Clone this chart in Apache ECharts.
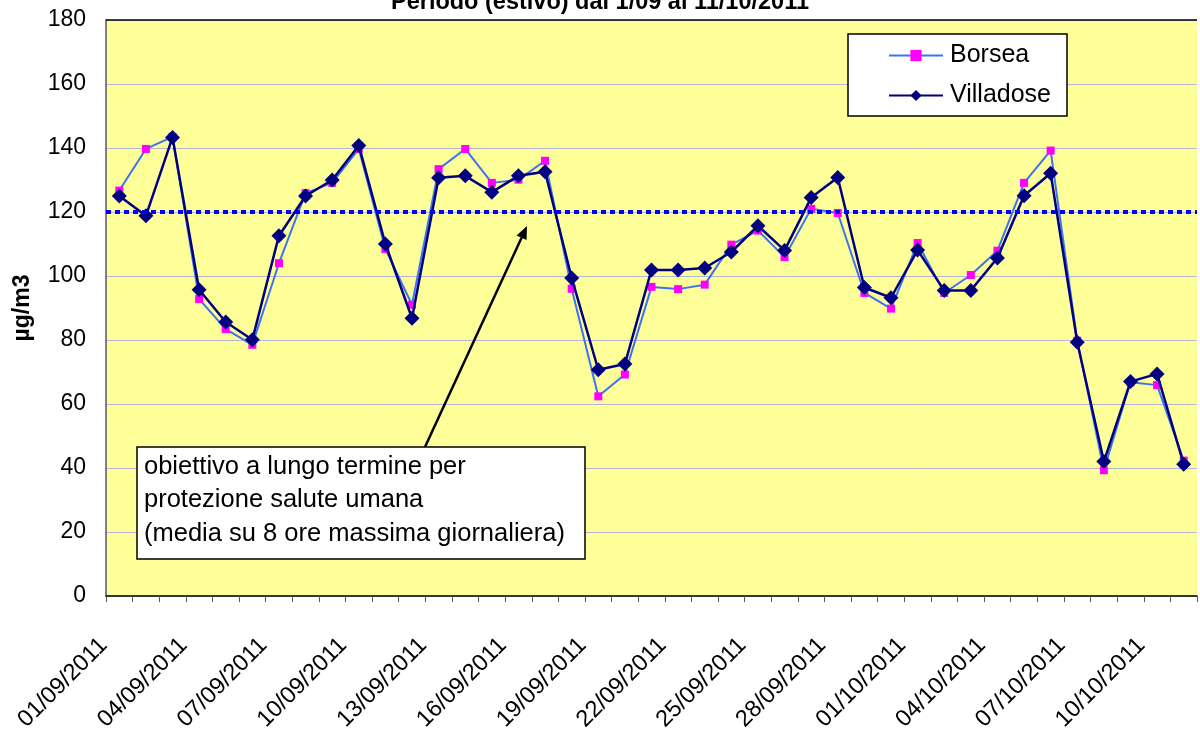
<!DOCTYPE html>
<html>
<head>
<meta charset="utf-8">
<script src="https://cdn.jsdelivr.net/npm/echarts@6/dist/echarts.min.js"></script>
<style>
html,body{margin:0;padding:0;background:#fff;}
#chart{width:1200px;height:740px;}
</style>
</head>
<body>
<div id="chart"></div>
<script>
var titleText = 'Periodo (estivo) dal 1/09 al 11/10/2011';
var yAxisTitle = 'µg/m3';
var categories = [
 '01/09/2011','02/09/2011','03/09/2011','04/09/2011','05/09/2011','06/09/2011','07/09/2011','08/09/2011','09/09/2011','10/09/2011',
 '11/09/2011','12/09/2011','13/09/2011','14/09/2011','15/09/2011','16/09/2011','17/09/2011','18/09/2011','19/09/2011','20/09/2011',
 '21/09/2011','22/09/2011','23/09/2011','24/09/2011','25/09/2011','26/09/2011','27/09/2011','28/09/2011','29/09/2011','30/09/2011',
 '01/10/2011','02/10/2011','03/10/2011','04/10/2011','05/10/2011','06/10/2011','07/10/2011','08/10/2011','09/10/2011','10/10/2011',
 '11/10/2011'
];
var borsea = [
 126.7,139.7,143.5,92.8,83.4,78.5,104.0,125.9,129.1,139.7,
 108.4,91.0,133.4,139.7,129.1,130.1,136.0,96.0,62.4,69.2,
 96.6,95.9,97.3,109.8,114.2,105.9,121.0,119.7,94.7,89.8,
 110.3,94.7,100.3,107.9,129.1,139.2,79.8,39.3,66.8,65.9,
 42.3
];
var villadose = [
 125.0,118.8,143.3,95.7,85.6,80.1,112.6,125.0,130.0,140.8,
 110.0,86.8,130.7,131.3,126.2,131.3,132.6,99.4,70.7,72.5,
 101.9,101.9,102.5,107.5,115.7,108.0,124.5,130.8,96.4,93.2,
 108.1,95.5,95.5,105.6,125.1,132.1,79.3,42.0,67.0,69.4,
 41.2
];
var target = 120;
var yTicks = [0,20,40,60,80,100,120,140,160,180];
var annotationLines = ['obiettivo a lungo termine per','protezione salute umana','(media su 8 ore massima giornaliera)'];

var FONT = '"Liberation Sans", Arial, sans-serif';
var chart = echarts.init(document.getElementById('chart'), null, {renderer:'canvas'});

// arrow geometry
var tail = [425, 447], tip = [527, 226];
var dx = tip[0]-tail[0], dy = tip[1]-tail[1], L = Math.sqrt(dx*dx+dy*dy);
var ux = dx/L, uy = dy/L, hl = 13, hw = 5.5;
var bx = tip[0]-hl*ux, by = tip[1]-hl*uy;

var option = {
  animation:false,
  backgroundColor:'#ffffff',
  title:{
    text:titleText, left:'center', top:-9, padding:0,
    textStyle:{fontFamily:FONT, fontSize:23.5, fontWeight:'bold', color:'#000'}
  },
  legend:{
    data:['Borsea','Villadose'],
    orient:'vertical',
    left:848, top:34,
    padding:[9,16,8,40],
    itemGap:15,
    itemWidth:54, itemHeight:14,
    backgroundColor:'#ffffff', borderColor:'#000', borderWidth:1.5, borderRadius:0,
    textStyle:{fontFamily:FONT, fontSize:25, color:'#000', padding:[0,0,0,2]}
  },
  grid:{
    left:106, right:3, top:20, bottom:144,
    show:true, backgroundColor:'#FFFF99', borderWidth:0
  },
  xAxis:{
    type:'category', data:categories, boundaryGap:true,
    axisLine:{show:true, lineStyle:{color:'#000', width:1.5}},
    axisTick:{show:true, interval:0, length:6, lineStyle:{color:'#555', width:1}},
    axisLabel:{interval:2, rotate:45, margin:30, padding:[0,22,0,0], fontFamily:FONT, fontSize:23.5, color:'#000'},
    splitLine:{show:false}
  },
  yAxis:{
    type:'value', min:0, max:180, interval:20,
    name:yAxisTitle, nameLocation:'middle', nameGap:72, nameRotate:90,
    nameTextStyle:{fontFamily:FONT, fontSize:23, fontWeight:'bold', color:'#000'},
    axisLine:{show:true, lineStyle:{color:'#808080', width:2}},
    axisTick:{show:false},
    axisLabel:{margin:20, fontFamily:FONT, fontSize:23, color:'#000',
      formatter:function(v){return yTicks.indexOf(v)>=0 ? String(v) : '';}},
    splitLine:{show:true, lineStyle:{color:'#b4b4cc', width:1}}
  },
  series:[
    {
      name:'Borsea', type:'line', data:borsea,
      symbol:'rect', symbolSize:8, showSymbol:true,
      lineStyle:{color:'#3d72f0', width:2},
      itemStyle:{color:'#ff00ff', borderWidth:0},
      z:2,
      markLine:{
        silent:true, symbol:'none', label:{show:false},
        lineStyle:{color:'#0000ff', width:4, type:[5,4]},
        data:[{yAxis:target}]
      }
    },
    {
      name:'Villadose', type:'line', data:villadose,
      symbol:'diamond', symbolSize:15, showSymbol:true,
      lineStyle:{color:'#000080', width:2.5},
      itemStyle:{color:'#000080', borderWidth:0},
      z:3
    }
  ],
  graphic:[
    {type:'line', z:50, shape:{x1:106, y1:20, x2:1197, y2:20}, style:{stroke:'#000', lineWidth:1.5}},
    {type:'line', z:60, shape:{x1:tail[0], y1:tail[1], x2:bx, y2:by}, style:{stroke:'#000', lineWidth:2.5}},
    {type:'polygon', z:60, shape:{points:[[tip[0],tip[1]],[bx-hw*uy, by+hw*ux],[bx+hw*uy, by-hw*ux]]}, style:{fill:'#000'}},
    {type:'rect', z:70, shape:{x:137, y:447, width:448, height:112}, style:{fill:'#ffffff', stroke:'#000', lineWidth:1.5}},
    {type:'text', z:71, left:144, top:450, style:{text:annotationLines.join('\n'), font:'25.5px '+FONT, fill:'#000', lineHeight:33.5}}
  ]
};
chart.setOption(option);
</script>
</body>
</html>
